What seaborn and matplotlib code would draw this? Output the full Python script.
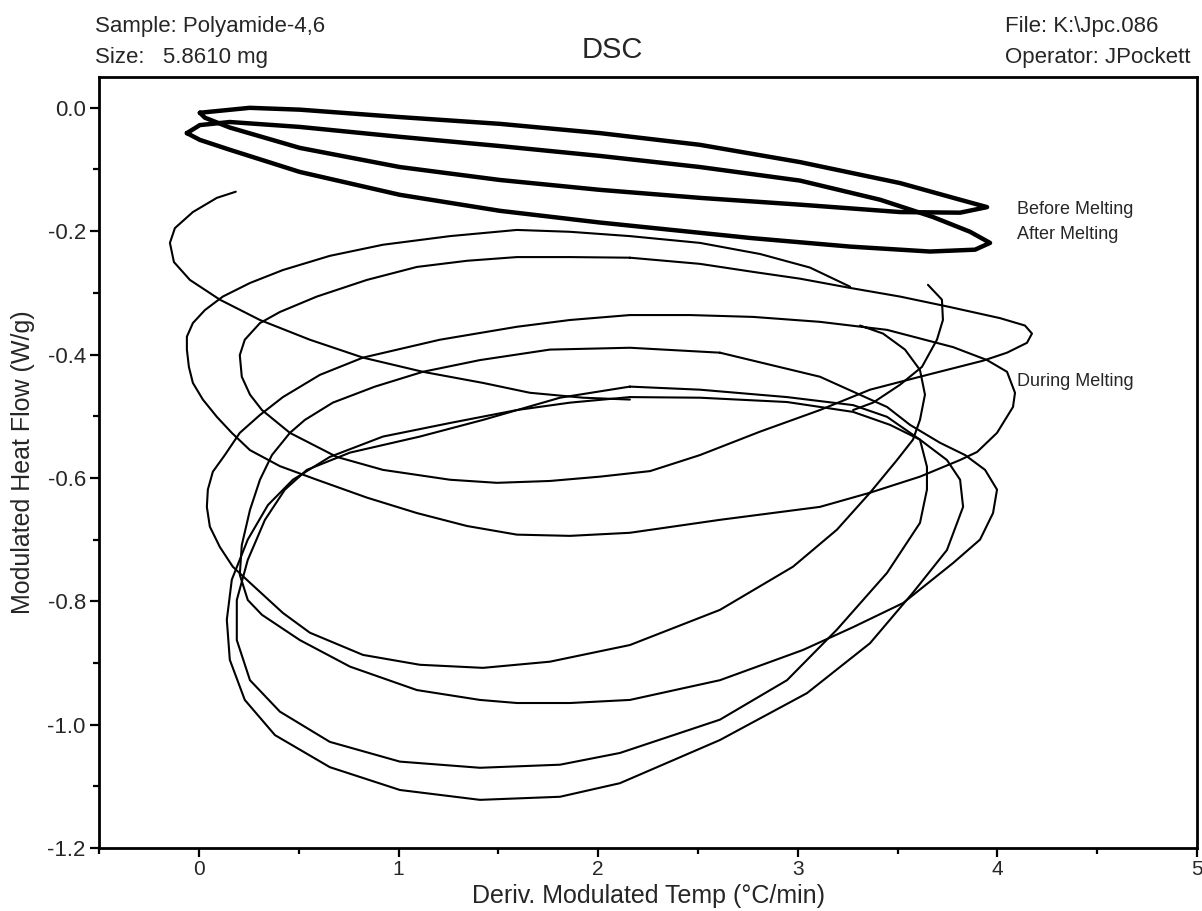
import matplotlib
matplotlib.use("Agg")
import matplotlib.pyplot as plt
from matplotlib.ticker import MultipleLocator, FormatStrFormatter
import seaborn as sns
import pandas as pd

sns.set_style("ticks")
plt.rcParams["font.family"] = ["Liberation Sans", "DejaVu Sans"]
plt.rcParams["axes.unicode_minus"] = False

# thick loops (before / after melting)
before_x = [0.005, 0.255, 0.506, 1.006, 1.508, 2.009, 2.510, 3.011, 3.512, 3.813, 3.948,
            3.813, 3.512, 3.011, 2.510, 2.009, 1.508, 1.006, 0.506, 0.155, 0.030, 0.005]
before_y = [-0.008, 0.0, -0.003, -0.015, -0.026, -0.041, -0.060, -0.088, -0.122, -0.149, -0.161,
            -0.170, -0.169, -0.157, -0.146, -0.133, -0.117, -0.096, -0.065, -0.032, -0.016, -0.008]

after_x = [-0.060, 0.005, 0.155, 0.506, 1.006, 1.508, 2.009, 2.510, 3.011, 3.412, 3.677, 3.863,
           3.963, 3.888, 3.662, 3.262, 2.761, 2.009, 1.508, 1.006, 0.506, 0.155, 0.005, -0.060]
after_y = [-0.041, -0.028, -0.023, -0.031, -0.047, -0.062, -0.078, -0.096, -0.118, -0.149, -0.177, -0.201,
           -0.219, -0.230, -0.233, -0.225, -0.211, -0.186, -0.167, -0.141, -0.104, -0.068, -0.052, -0.041]

# during melting - traced pieces of the thin curve
hook_x = [0.185, 0.090, -0.030, -0.120, -0.145, -0.125, -0.045, 0.105, 0.306, 0.556, 0.822,
          1.122, 1.423, 1.658, 1.924, 2.159]
hook_y = [-0.136, -0.146, -0.169, -0.195, -0.219, -0.250, -0.279, -0.311, -0.344, -0.376, -0.405,
          -0.428, -0.446, -0.462, -0.470, -0.473]

top_x = [2.159, 2.510, 2.776, 3.011, 3.262, 3.512, 3.762, 4.013, 4.138, 4.173, 4.148, 4.048, 3.928,
         3.612, 3.362, 3.111, 2.811, 2.510, 2.260, 2.009, 1.758, 1.493, 1.258, 0.922, 0.691, 0.456,
         0.316, 0.256, 0.215, 0.205, 0.230, 0.306, 0.406, 0.591, 0.842, 1.092, 1.343, 1.593, 1.859, 2.159]
top_y = [-0.243, -0.253, -0.266, -0.277, -0.292, -0.306, -0.323, -0.341, -0.353, -0.366, -0.381, -0.397, -0.410,
         -0.436, -0.457, -0.490, -0.525, -0.563, -0.589, -0.598, -0.605, -0.608, -0.603, -0.587, -0.566, -0.527,
         -0.490, -0.465, -0.436, -0.401, -0.376, -0.349, -0.331, -0.306, -0.279, -0.258, -0.248, -0.242, -0.242, -0.243]

mid_x = [3.312, 3.427, 3.537, 3.612, 3.637, 3.612, 3.577, 3.497, 3.362, 3.196, 2.976, 2.610, 2.159,
         1.758, 1.423, 1.107, 0.822, 0.556, 0.421, 0.256, 0.170, 0.105, 0.055, 0.040, 0.045, 0.070,
         0.130, 0.205, 0.306, 0.421, 0.606, 0.822, 1.207, 1.593, 1.859, 2.159, 2.460, 2.776, 3.111,
         3.447, 3.778, 3.948, 4.048, 4.088, 4.078, 3.998, 3.898, 3.813, 3.612, 3.362, 3.111, 2.610,
         2.159, 1.859, 1.593, 1.343, 1.092, 0.842, 0.591, 0.406, 0.256, 0.165, 0.090, 0.020, -0.030,
         -0.050, -0.060, -0.060, -0.030, 0.030, 0.120, 0.256, 0.421, 0.656, 0.922, 1.258, 1.593,
         1.859, 2.159, 2.510, 2.811, 3.061, 3.262]
mid_y = [-0.353, -0.366, -0.392, -0.425, -0.465, -0.506, -0.538, -0.571, -0.624, -0.684, -0.744, -0.814, -0.871,
         -0.898, -0.908, -0.903, -0.887, -0.851, -0.819, -0.770, -0.744, -0.712, -0.679, -0.647, -0.619, -0.590,
         -0.563, -0.527, -0.498, -0.469, -0.433, -0.405, -0.376, -0.355, -0.344, -0.336, -0.336, -0.339, -0.347,
         -0.360, -0.388, -0.409, -0.428, -0.462, -0.485, -0.527, -0.558, -0.571, -0.598, -0.624, -0.647, -0.668,
         -0.689, -0.694, -0.692, -0.678, -0.657, -0.632, -0.603, -0.581, -0.555, -0.527, -0.501, -0.473, -0.446,
         -0.420, -0.392, -0.371, -0.349, -0.328, -0.306, -0.284, -0.263, -0.240, -0.222, -0.208, -0.198,
         -0.201, -0.208, -0.219, -0.237, -0.259, -0.290]

e_x = [2.610, 2.159, 1.758, 1.408, 1.122, 0.882, 0.671, 0.531, 0.456, 0.366, 0.306, 0.256, 0.215,
       0.205, 0.245, 0.316, 0.506, 0.757, 1.092, 1.408, 1.593, 1.859, 2.159, 2.610, 3.026, 3.277,
       3.527, 3.778, 3.913, 3.978, 3.998, 3.938, 3.838, 3.712, 3.562, 3.447, 3.111, 2.610]
e_y = [-0.397, -0.389, -0.392, -0.409, -0.428, -0.452, -0.478, -0.506, -0.527, -0.563, -0.603, -0.652, -0.709,
       -0.757, -0.798, -0.822, -0.863, -0.906, -0.944, -0.960, -0.965, -0.965, -0.960, -0.928, -0.879, -0.842,
       -0.803, -0.738, -0.700, -0.657, -0.619, -0.587, -0.563, -0.543, -0.514, -0.485, -0.436, -0.397]

f1_x = [2.159, 1.809, 1.423, 1.107, 0.757, 0.541, 0.431, 0.331, 0.245, 0.190, 0.190, 0.256, 0.406,
        0.656, 1.007, 1.408, 1.809, 2.109, 2.610, 2.946, 3.196, 3.447, 3.612, 3.647, 3.647, 3.612,
        3.447, 3.277, 2.946, 2.510, 2.159]
f1_y = [-0.452, -0.470, -0.506, -0.533, -0.559, -0.587, -0.619, -0.668, -0.733, -0.798, -0.863, -0.928, -0.979,
        -1.028, -1.060, -1.070, -1.065, -1.046, -0.992, -0.928, -0.846, -0.754, -0.673, -0.619, -0.582, -0.538,
        -0.501, -0.482, -0.469, -0.457, -0.452]

f2_x = [2.159, 1.859, 1.593, 1.258, 0.922, 0.656, 0.471, 0.346, 0.245, 0.165, 0.140, 0.155, 0.230,
        0.381, 0.656, 1.007, 1.408, 1.809, 2.109, 2.610, 3.046, 3.362, 3.577, 3.747, 3.828, 3.813,
        3.747, 3.612, 3.462, 3.277, 2.946, 2.510, 2.159]
f2_y = [-0.469, -0.478, -0.490, -0.511, -0.533, -0.566, -0.603, -0.644, -0.700, -0.765, -0.830, -0.895, -0.960,
        -1.017, -1.069, -1.106, -1.122, -1.117, -1.095, -1.025, -0.949, -0.868, -0.786, -0.717, -0.647, -0.603,
        -0.571, -0.538, -0.514, -0.493, -0.477, -0.470, -0.469]

tail_x = [3.652, 3.722, 3.727, 3.697, 3.622, 3.512, 3.377, 3.277]
tail_y = [-0.287, -0.311, -0.344, -0.376, -0.420, -0.449, -0.478, -0.490]

fig = plt.figure(figsize=(12.02, 9.11), dpi=100)
ax = fig.add_axes([0.0824, 0.0692, 0.9135, 0.8463])


def draw(xs, ys, lw):
    d = pd.DataFrame({"x": xs, "y": ys})
    sns.lineplot(data=d, x="x", y="y", sort=False, estimator=None, color="black",
                 linewidth=lw, ax=ax)


draw(before_x, before_y, 3.2)
draw(after_x, after_y, 3.2)
for xs, ys in [(hook_x, hook_y), (top_x, top_y), (mid_x, mid_y), (e_x, e_y),
               (f1_x, f1_y), (f2_x, f2_y), (tail_x, tail_y)]:
    draw(xs, ys, 1.5)

ax.set_xlim(-0.5, 5)
ax.set_ylim(-1.2, 0.05)
ax.xaxis.set_major_locator(MultipleLocator(1))
ax.xaxis.set_minor_locator(MultipleLocator(0.5))
ax.yaxis.set_major_locator(MultipleLocator(0.2))
ax.yaxis.set_minor_locator(MultipleLocator(0.1))
ax.yaxis.set_major_formatter(FormatStrFormatter("%.1f"))
ax.tick_params(which="major", direction="out", length=6.5, width=1.6, labelsize=16, pad=3, color="black")
ax.tick_params(axis="x", which="major", labelsize=15, pad=2)
ax.tick_params(which="minor", direction="out", length=4, width=1.6, color="black")
for s in ax.spines.values():
    s.set_linewidth(2.0)
    s.set_color("black")

ax.set_xlabel("Deriv. Modulated Temp (°C/min)", fontsize=18)
ax.set_ylabel("Modulated Heat Flow (W/g)", fontsize=18)
ax.xaxis.set_label_coords(0.5, -0.047)
ax.yaxis.set_label_coords(-0.058, 0.5)

ax.text(4.098, -0.165, "Before Melting", fontsize=13, va="center")
ax.text(4.098, -0.206, "After Melting", fontsize=13, va="center")
ax.text(4.098, -0.444, "During Melting", fontsize=13, va="center")

fig.text(0.079, 0.9704, "Sample: Polyamide-4,6", fontsize=16, va="center")
fig.text(0.079, 0.9374, "Size:   5.8610 mg", fontsize=16, va="center")
fig.text(0.836, 0.9704, "File: K:\\Jpc.086", fontsize=16, va="center")
fig.text(0.836, 0.9374, "Operator: JPockett", fontsize=16, va="center")
fig.text(0.509, 0.945, "DSC", fontsize=21, ha="center", va="center")

fig.savefig("out.png", dpi=100)
